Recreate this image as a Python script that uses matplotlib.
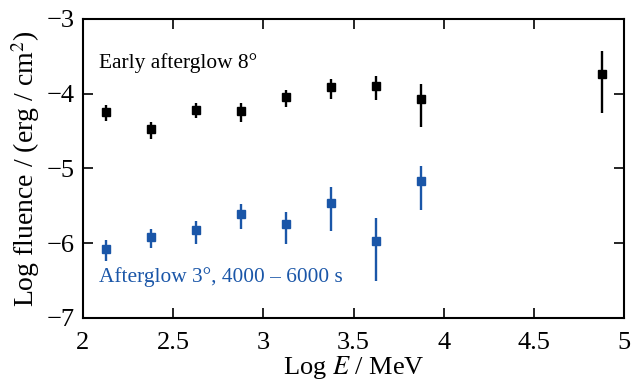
import matplotlib
matplotlib.use("Agg")
import matplotlib.pyplot as plt

# log energy bins (MeV)
early_x = [2.125, 2.375, 2.625, 2.875, 3.125, 3.375, 3.625, 3.875, 4.875]
early_y = [-4.25, -4.48, -4.22, -4.23, -4.04, -3.91, -3.90, -4.07, -3.74]
early_lo = [0.12, 0.13, 0.11, 0.15, 0.14, 0.16, 0.19, 0.38, 0.52]
early_hi = [0.10, 0.10, 0.09, 0.11, 0.09, 0.10, 0.13, 0.20, 0.31]

late_x = [2.125, 2.375, 2.625, 2.875, 3.125, 3.375, 3.625, 3.875]
late_y = [-6.08, -5.92, -5.83, -5.61, -5.74, -5.46, -5.97, -5.17]
late_lo = [0.16, 0.14, 0.18, 0.20, 0.27, 0.38, 0.54, 0.39]
late_hi = [0.12, 0.11, 0.13, 0.13, 0.16, 0.21, 0.30, 0.20]

blue = "#1a56a8"

plt.rcParams["font.family"] = ["Liberation Serif", "DejaVu Serif"]
plt.rcParams["mathtext.fontset"] = "stix"

fig = plt.figure(figsize=(6.31, 3.84), dpi=100)
ax = fig.add_axes([0.1315, 0.172, 0.8575, 0.779])

ax.errorbar(early_x, early_y, yerr=[early_lo, early_hi], fmt="s", color="black",
            ms=5.5, elinewidth=1.7, capsize=0)
ax.errorbar(late_x, late_y, yerr=[late_lo, late_hi], fmt="s", color=blue,
            ms=5.5, elinewidth=1.7, capsize=0)

ax.text(2.09, -3.59, "Early afterglow 8\u00b0", fontsize=15.4, va="center", ha="left")
ax.text(2.09, -6.45, "Afterglow 3\u00b0, 4000 \u2013 6000 s", fontsize=15.4,
        va="center", ha="left", color=blue)

ax.set_xlim(2, 5)
ax.set_ylim(-7, -3)
ax.set_xticks([2, 2.5, 3, 3.5, 4, 4.5, 5])
ax.set_xticklabels(["2", "2.5", "3", "3.5", "4", "4.5", "5"])
ax.set_yticks([-7, -6, -5, -4, -3])
ax.set_yticklabels(["\u22127", "\u22126", "\u22125", "\u22124", "\u22123"])
ax.tick_params(direction="in", top=True, right=True, length=7, width=1.2,
               labelsize=19)
ax.tick_params(axis="x", pad=10)
ax.tick_params(axis="y", pad=6)
for s in ax.spines.values():
    s.set_linewidth(1.5)

ax.set_xlabel("Log $E$ / MeV", fontsize=19, labelpad=0)
ax.set_ylabel("Log fluence / (erg / cm$^2$)", fontsize=20, labelpad=3)

fig.savefig("out.png", dpi=100)
